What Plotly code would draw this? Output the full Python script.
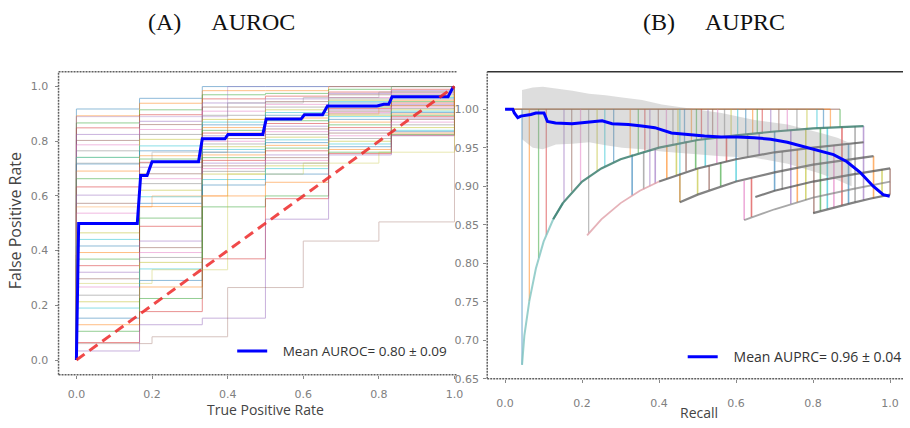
import plotly.graph_objects as go

TAB10 = ['#1f77b4', '#ff7f0e', '#2ca02c', '#d62728', '#9467bd',
         '#8c564b', '#e377c2', '#7f7f7f', '#bcbd22', '#17becf']

# ---------------- (A) AUROC data ----------------
ROC_X6 = [0.0, 0.167, 0.333, 0.5, 0.667, 0.833, 1.0]
ROC_X5 = [0.0, 0.2, 0.4, 0.6, 0.8, 1.0]
ROC_LEVELS_6 = [
    [0.918, 0.957, 1.000, 1.000, 1.000, 1.000],
    [0.893, 0.939, 0.985, 0.985, 1.000, 1.000],
    [0.867, 0.915, 0.970, 0.975, 0.990, 1.000],
    [0.849, 0.897, 0.955, 0.965, 0.980, 0.990],
    [0.825, 0.873, 0.940, 0.955, 0.975, 0.985],
    [0.803, 0.861, 0.925, 0.945, 0.970, 0.980],
    [0.787, 0.843, 0.910, 0.935, 0.960, 0.975],
    [0.765, 0.825, 0.895, 0.925, 0.955, 0.970],
    [0.741, 0.807, 0.880, 0.915, 0.950, 0.965],
    [0.741, 0.783, 0.870, 0.905, 0.945, 0.960],
    [0.717, 0.765, 0.860, 0.895, 0.940, 0.955],
    [0.691, 0.747, 0.850, 0.885, 0.930, 0.950],
    [0.663, 0.735, 0.840, 0.875, 0.925, 0.945],
    [0.633, 0.723, 0.830, 0.865, 0.920, 0.940],
    [0.603, 0.705, 0.820, 0.855, 0.915, 0.935],
    [0.573, 0.681, 0.810, 0.845, 0.910, 0.930],
    [0.537, 0.663, 0.800, 0.835, 0.905, 0.925],
    [0.501, 0.645, 0.790, 0.825, 0.900, 0.920],
    [0.465, 0.621, 0.780, 0.815, 0.895, 0.915],
    [0.441, 0.597, 0.770, 0.805, 0.890, 0.910],
    [0.417, 0.573, 0.760, 0.795, 0.880, 0.905],
    [0.393, 0.561, 0.750, 0.785, 0.870, 0.900],
    [0.369, 0.519, 0.740, 0.775, 0.860, 0.895],
    [0.345, 0.489, 0.730, 0.765, 0.850, 0.890],
    [0.321, 0.435, 0.720, 0.750, 0.840, 0.885],
    [0.297, 0.411, 0.710, 0.740, 0.830, 0.880],
    [0.267, 0.393, 0.700, 0.730, 0.820, 0.870],
    [0.237, 0.375, 0.690, 0.720, 0.810, 0.860],
    [0.213, 0.357, 0.680, 0.710, 0.800, 0.850],
    [0.190, 0.333, 0.660, 0.700, 0.790, 0.840],
    [0.153, 0.291, 0.640, 0.680, 0.780, 0.835],
    [0.129, 0.267, 0.600, 0.650, 0.770, 0.830],
    [0.105, 0.225, 0.560, 0.600, 0.760, 0.825],
    [0.064, 0.177, 0.370, 0.590, 0.755, 0.822],
    [0.033, 0.129, 0.153, 0.515, 0.750, 0.820],
]
ROC_LEVELS_5 = [
    [0.060, 0.085, 0.265, 0.435, 0.505],
    [0.280, 0.330, 0.680, 0.720, 0.760],
    [0.560, 0.600, 0.880, 0.900, 0.930],
    [0.890, 0.890, 1.000, 1.000, 1.000],
    [0.720, 0.760, 0.940, 0.960, 0.980],
]
MEAN_ROC_X = [0.0, 0.006, 0.161, 0.170, 0.187, 0.200, 0.323, 0.333, 0.393, 0.401, 0.493,
              0.502, 0.594, 0.603, 0.651, 0.664, 0.795, 0.813, 0.826, 0.835, 0.983, 0.997]
MEAN_ROC_Y = [0.0, 0.499, 0.499, 0.675, 0.675, 0.725, 0.725, 0.809, 0.809, 0.825, 0.825,
              0.881, 0.881, 0.897, 0.897, 0.929, 0.929, 0.935, 0.935, 0.963, 0.963, 1.0]
CHANCE_X = [0.0, 1.0]
CHANCE_Y = [0.0, 1.0]

# ---------------- (B) AUPRC data ----------------
TOP_END_R = [0.870, 0.845, 0.827]          # folds that keep precision 1.0 until these recalls
ENV1A_R = [0.044, 0.05, 0.063, 0.08, 0.1, 0.125, 0.15]
ENV1A_P = [0.668, 0.706, 0.751, 0.793, 0.828, 0.857, 0.878]
ENV1_R = [0.125, 0.15, 0.2, 0.25, 0.3, 0.4, 0.5, 0.6, 0.7, 0.8, 0.931]
ENV1_P = [0.857, 0.878, 0.906, 0.923, 0.935, 0.950, 0.960, 0.966, 0.971, 0.975, 0.978]
ENV2A_R = [0.213, 0.25, 0.3, 0.35, 0.4]
ENV2A_P = [0.836, 0.857, 0.878, 0.894, 0.906]
ENV2_R = [0.4, 0.5, 0.6, 0.7, 0.8, 0.9, 0.931]
ENV2_P = [0.906, 0.923, 0.935, 0.944, 0.950, 0.956, 0.957]
ENV3_R = [0.454, 0.5, 0.6, 0.7, 0.8, 0.9, 0.957]
ENV3_P = [0.879, 0.889, 0.906, 0.918, 0.928, 0.935, 0.939]
ENV4_R = [0.65, 0.7, 0.8, 0.9, 1.0]
ENV4_P = [0.886, 0.894, 0.906, 0.915, 0.923]
ENV5_R = [0.621, 0.7, 0.8, 0.9, 1.0]
ENV5_P = [0.856, 0.870, 0.885, 0.896, 0.906]
ENV6_R = [0.80, 0.85, 0.9, 0.95, 1.0]
ENV6_P = [0.865, 0.872, 0.878, 0.884, 0.889]

DROP_R = [0.044, 0.063, 0.087, 0.107, 0.153, 0.173, 0.196, 0.217, 0.239, 0.259, 0.282, 0.325,
          0.346, 0.363, 0.376, 0.398, 0.419, 0.436, 0.449, 0.454, 0.466, 0.484, 0.497, 0.510,
          0.527, 0.539, 0.552, 0.570, 0.587, 0.604, 0.625, 0.643, 0.655, 0.668, 0.690, 0.711,
          0.733, 0.758, 0.784, 0.810, 0.827, 0.845, 0.870]
DROP_TOP = [1.0] * 43
DROP_BOT = [0.668, 0.751, 0.807, 0.837, 0.880, 0.893, 0.904, 0.839, 0.920, 0.926, 0.931, 0.940,
            0.943, 0.946, 0.900, 0.950, 0.953, 0.954, 0.956, 0.879, 0.957, 0.959, 0.960, 0.961,
            0.962, 0.963, 0.964, 0.965, 0.966, 0.967, 0.968, 0.969, 0.969, 0.970, 0.971, 0.972,
            0.972, 0.973, 0.974, 0.975, 0.975, 0.976, 0.977]
STEP_R = [0.330, 0.360, 0.390, 0.420, 0.445, 0.470, 0.495, 0.520, 0.550, 0.575, 0.600, 0.630,
          0.660, 0.454, 0.500, 0.530, 0.560, 0.600, 0.621, 0.640,
          0.700, 0.720, 0.742, 0.759, 0.781, 0.802, 0.819, 0.837, 0.854, 0.875, 0.892, 0.909,
          0.931, 0.957, 0.979, 1.000]
STEP_TOP = [0.941, 0.945, 0.949, 0.953, 0.955, 0.958, 0.960, 0.961, 0.964, 0.965, 0.966, 0.968,
            0.969, 0.916, 0.923, 0.927, 0.931, 0.935, 0.907, 0.910,
            0.971, 0.945, 0.973, 0.948, 0.974, 0.951, 0.975, 0.976, 0.953, 0.977, 0.955, 0.978,
            0.978, 0.939, 0.922, 0.923]
STEP_BOT = [0.888, 0.896, 0.903, 0.910, 0.914, 0.919, 0.922, 0.926, 0.930, 0.932, 0.935, 0.938,
            0.941, 0.879, 0.889, 0.895, 0.900, 0.906, 0.856, 0.860,
            0.894, 0.896, 0.877, 0.879, 0.882, 0.865, 0.868, 0.870, 0.872, 0.875, 0.877, 0.879,
            0.882, 0.884, 0.887, 0.889]

BAND_R = [0.044, 0.072, 0.098, 0.132, 0.175, 0.218, 0.261, 0.304, 0.356, 0.407, 0.476,
          0.562, 0.648, 0.734, 0.820, 0.863, 0.900]
BAND_UP = [1.025, 1.028, 1.029, 1.027, 1.024, 1.020, 1.018, 1.015, 1.012, 1.006, 1.001,
           0.995, 0.986, 0.980, 0.969, 0.963, 0.955]
BAND_LO = [0.961, 0.950, 0.948, 0.954, 0.955, 0.957, 0.953, 0.950, 0.948, 0.945, 0.942,
           0.939, 0.937, 0.929, 0.916, 0.908, 0.900]

MEAN_PR_R = [0.0, 0.020, 0.024, 0.033, 0.041, 0.054, 0.067, 0.080, 0.101, 0.110, 0.131, 0.174,
             0.217, 0.252, 0.278, 0.320, 0.355, 0.389, 0.432, 0.475, 0.518, 0.561, 0.604, 0.647,
             0.690, 0.733, 0.776, 0.819, 0.853, 0.887, 0.922, 0.956, 0.982, 0.999]
MEAN_PR_P = [1.000, 1.000, 0.995, 0.989, 0.991, 0.992, 0.993, 0.995, 0.995, 0.984, 0.982, 0.981,
             0.983, 0.985, 0.981, 0.980, 0.978, 0.976, 0.969, 0.967, 0.965, 0.964, 0.964, 0.963,
             0.961, 0.957, 0.951, 0.945, 0.941, 0.932, 0.918, 0.900, 0.889, 0.887]

TICKS_01 = [0.0, 0.2, 0.4, 0.6, 0.8, 1.0]
TICK_LABELS_01 = ['0.0', '0.2', '0.4', '0.6', '0.8', '1.0']
TICKS_PR_Y = [0.65, 0.70, 0.75, 0.80, 0.85, 0.90, 0.95, 1.00]
TICK_LABELS_PR_Y = ['0.65', '0.70', '0.75', '0.80', '0.85', '0.90', '0.95', '1.00']

fig = go.Figure()
ci = 0
# ---- left panel: individual ROC curves ----
for lv in ROC_LEVELS_6:
    fig.add_trace(go.Scatter(x=[0.0] + ROC_X6, y=[0.0] + lv + [1.0], mode='lines',
                             line=dict(color=TAB10[ci % 10], width=1, shape='hv'),
                             opacity=0.5, showlegend=False, hoverinfo='skip', xaxis='x', yaxis='y'))
    ci += 1
for lv in ROC_LEVELS_5:
    fig.add_trace(go.Scatter(x=[0.0] + ROC_X5, y=[0.0] + lv + [1.0], mode='lines',
                             line=dict(color=TAB10[(ci * 3) % 10], width=1, shape='hv'),
                             opacity=0.35, showlegend=False, hoverinfo='skip', xaxis='x', yaxis='y'))
    ci += 1
fig.add_trace(go.Scatter(x=MEAN_ROC_X, y=MEAN_ROC_Y, mode='lines',
                         line=dict(color='#0000ff', width=3),
                         name='\u00a0\u00a0\u00a0Mean AUROC= 0.80 ± 0.09', legend='legend',
                         xaxis='x', yaxis='y'))
fig.add_trace(go.Scatter(x=CHANCE_X, y=CHANCE_Y, mode='lines',
                         line=dict(color='#ee2a2a', width=3, dash='10px,6px'), opacity=0.85,
                         showlegend=False, xaxis='x', yaxis='y'))

# ---- right panel: PR curves ----
top_cols = ['#8c564b', '#ff7f0e', '#7f7f7f']
for i, r_end in enumerate(TOP_END_R):
    fig.add_trace(go.Scatter(x=[0.0, r_end], y=[1.0, 1.0], mode='lines',
                             line=dict(color=top_cols[i], width=1.5), opacity=0.5,
                             showlegend=False, hoverinfo='skip', xaxis='x2', yaxis='y2'))
for i in range(len(DROP_R)):
    fig.add_trace(go.Scatter(x=[DROP_R[i], DROP_R[i]], y=[DROP_TOP[i], DROP_BOT[i]], mode='lines',
                             line=dict(color=TAB10[i % 10], width=1.3), opacity=0.5,
                             showlegend=False, hoverinfo='skip', xaxis='x2', yaxis='y2'))
for i in range(len(STEP_R)):
    fig.add_trace(go.Scatter(x=[STEP_R[i], STEP_R[i]], y=[STEP_TOP[i], STEP_BOT[i]], mode='lines',
                             line=dict(color=TAB10[(i * 7) % 10], width=1.6), opacity=0.6,
                             showlegend=False, hoverinfo='skip', xaxis='x2', yaxis='y2'))
env_list = [(ENV1A_R, ENV1A_P, '#7fc4c0', 2.0, 0.8), (ENV1_R, ENV1_P, '#3d7f70', 2.2, 0.85),
            (ENV2A_R, ENV2A_P, '#e0a0a8', 1.8, 0.8), (ENV2_R, ENV2_P, '#5e5e5e', 2.2, 0.8),
            (ENV3_R, ENV3_P, '#5a5a5a', 2.2, 0.75), (ENV4_R, ENV4_P, '#555555', 2.2, 0.75),
            (ENV5_R, ENV5_P, '#7a7a7a', 1.8, 0.65), (ENV6_R, ENV6_P, '#5a5a5a', 2.2, 0.75)]
for rr, pp, col, w, op in env_list:
    fig.add_trace(go.Scatter(x=rr, y=pp, mode='lines', line=dict(color=col, width=w),
                             opacity=op, showlegend=False, hoverinfo='skip',
                             xaxis='x2', yaxis='y2'))
fig.add_trace(go.Scatter(x=BAND_R + BAND_R[::-1], y=BAND_UP + BAND_LO[::-1], mode='lines',
                         fill='toself', fillcolor='rgba(150,150,150,0.32)', line=dict(width=0),
                         showlegend=False, hoverinfo='skip', xaxis='x2', yaxis='y2'))
fig.add_trace(go.Scatter(x=MEAN_PR_R, y=MEAN_PR_P, mode='lines',
                         line=dict(color='#0000ff', width=3),
                         name='\u00a0\u00a0\u00a0Mean AUPRC= 0.96 ± 0.04', legend='legend2',
                         xaxis='x2', yaxis='y2'))

W, H = 910, 428
tickfont = dict(family='DejaVu Sans', size=11, color='#808080')
axcommon = dict(showgrid=False, zeroline=False, showline=False, ticks='outside', ticklen=3,
                tickcolor='#888888', tickfont=tickfont)
fig.update_layout(
    width=W, height=H, margin=dict(l=0, r=0, t=0, b=0),
    paper_bgcolor='white', plot_bgcolor='white',
    xaxis=dict(domain=[59 / W, 460 / W], range=[-0.0472, 1.0052], tickvals=TICKS_01,
               ticktext=TICK_LABELS_01, ticklabelstandoff=6, anchor='y', **axcommon),
    yaxis=dict(domain=[47 / H, 355 / H], range=[-0.054, 1.054], tickvals=TICKS_01,
               ticktext=TICK_LABELS_01, ticklabelstandoff=4, anchor='x', **axcommon),
    xaxis2=dict(domain=[491 / W, 1.0], range=[-0.0464, 1.0335], tickvals=TICKS_01,
                ticktext=TICK_LABELS_01, ticklabelstandoff=11, anchor='y2', **axcommon),
    yaxis2=dict(domain=[43 / H, 355 / H], range=[0.65, 1.0485], tickvals=TICKS_PR_Y,
                ticktext=TICK_LABELS_PR_Y, ticklabelstandoff=2, anchor='x2', **axcommon),
    legend=dict(x=234 / W, y=1 - 357 / H, xanchor='left', yanchor='middle',
                bgcolor='rgba(255,255,255,0.85)', itemwidth=30,
                font=dict(family='Open Sans', size=13.5, color='#333333')),
    legend2=dict(x=688 / W, y=1 - 363 / H, xanchor='left', yanchor='middle',
                 bgcolor='rgba(255,255,255,0.85)', itemwidth=30,
                 font=dict(family='Open Sans', size=14, color='#333333')),
)

border = dict(color='#606060', width=1.5, dash='2px,1px')
shapes = [
    dict(type='line', xref='x domain', yref='y domain', x0=0, x1=1, y0=1, y1=1, line=border),
    dict(type='line', xref='x domain', yref='y domain', x0=0, x1=1, y0=0, y1=0, line=border),
    dict(type='line', xref='x domain', yref='y domain', x0=0, x1=0, y0=0, y1=1, line=border),
    dict(type='line', xref='x2 domain', yref='y2 domain', x0=0, x1=1, y0=1, y1=1,
         line=dict(color='#333333', width=1.5)),
    dict(type='line', xref='x2 domain', yref='y2 domain', x0=0, x1=1, y0=0, y1=0, line=border),
    dict(type='line', xref='x2 domain', yref='y2 domain', x0=0, x1=0, y0=0, y1=1, line=border),
]
fig.update_layout(shapes=shapes)

titlefont = dict(family='Liberation Serif', size=24, color='#111111')
labfont = dict(family='Open Sans', size=14, color='#444444')
nb = '\u00a0' * 5
annotations = [
    dict(text='(A)' + nb + 'AUROC', x=223 / W, y=1 - 22 / H, xref='paper', yref='paper',
         showarrow=False, font=titlefont, xanchor='center', yanchor='middle'),
    dict(text='(B)' + nb + 'AUPRC', x=720 / W, y=1 - 22 / H, xref='paper', yref='paper',
         showarrow=False, font=titlefont, xanchor='center', yanchor='middle'),
    dict(text='False Positive Rate', x=15 / W, y=1 - 224 / H, xref='paper', yref='paper',
         showarrow=False, textangle=-90, font=dict(family='Open Sans', size=16, color='#444444'),
         xanchor='center', yanchor='middle'),
    dict(text='True Positive Rate', x=268 / W, y=1 - 416 / H, xref='paper', yref='paper',
         showarrow=False, font=labfont, xanchor='center', yanchor='middle'),
    dict(text='Recall', x=704 / W, y=1 - 419 / H, xref='paper', yref='paper',
         showarrow=False, font=labfont, xanchor='center', yanchor='middle'),
]
fig.update_layout(annotations=annotations)

fig.write_html('out.html')
